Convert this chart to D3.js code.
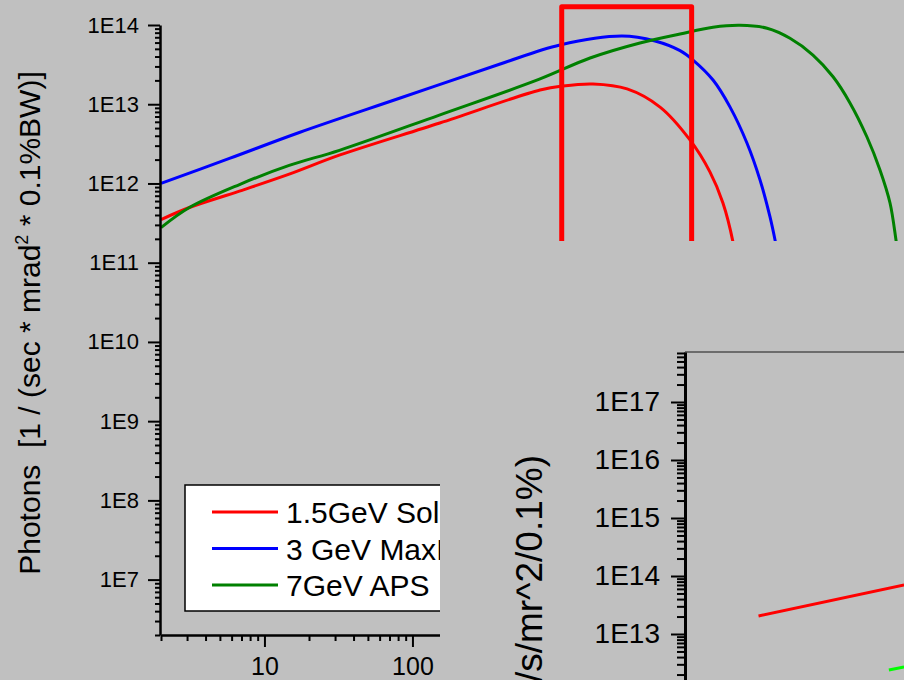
<!DOCTYPE html>
<html><head><meta charset="utf-8">
<script src="https://cdn.jsdelivr.net/npm/d3@7"></script>
<style>
body{margin:0;background:#c0c0c0;}
svg{display:block;font-family:"Liberation Sans",Arial,sans-serif;}
</style>
</head><body>
<svg id="c" width="904" height="680"></svg>
<script>
// ---------- data ----------
const seriesNames = ["1.5GeV Solaris", "3 GeV MaxIV", "7GeV APS"];
const seriesColors = ["#ff0000", "#0000ff", "#008000"];
// [photon energy (eV), photons]
const solaris = [[2,3.5e11],[3.11,4.97e11],[6.78,8.0e11],[14.7,1.31e12],[32.4,2.29e12],[153,5.8e12],[728,1.51e13],[1040,1.70e13],[1660,1.80e13],[2820,1.56e13],[4710,9.2e12],[7500,3.54e12],[10230,1.40e12],[12530,5.67e11],[14650,1.82e11],[15350,1.02e11]];
const maxiv = [[2,1e12],[5.8,2.07e12],[17.2,4.4e12],[81.7,1.19e13],[387,3.2e13],[993,5.6e13],[2606,7.26e13],[4360,6.28e13],[6430,4.74e13],[7870,3.61e13],[10740,2.02e13],[14000,9.2e12],[18200,3.24e12],[22300,1.11e12],[26060,3.78e11],[28180,1.93e11],[30000,1.02e11]];
const aps = [[2,2.77e11],[3.11,4.97e11],[6.78,9.7e11],[14.7,1.69e12],[32.1,2.62e12],[152,7.3e12],[721,2.07e13],[1585,3.83e13],[3445,5.93e13],[6430,7.7e13],[10740,9.35e13],[16330,9.9e13],[24890,9.1e13],[35560,6.8e13],[50840,4.18e13],[69500,2.22e13],[90400,1.04e13],[117800,3.86e12],[144200,1.48e12],[168600,5.67e11],[185000,1.93e11],[193800,1.02e11]];
const highlightEnergy = [1020, 7700];
const highlightPhotons = [1e11, 1.7e14];
const yTickLabels = ["1E7","1E8","1E9","1E10","1E11","1E12","1E13","1E14"];
const xTickLabels = ["10","100","1000","10000","100000"];
// inset
const insetRed = [[4.1,2.05e13],[67,7.0e13]];
const insetGreen = [[50,2.4e12],[67,2.7e12]];
const insetColors = ["#ff0000", "#00ff00"];
const insetTickLabels = ["1E12","1E13","1E14","1E15","1E16","1E17"];

// ---------- drawing ----------
const svg = d3.select("#c");
svg.append("rect").attr("width",904).attr("height",680).attr("fill","#c0c0c0");
const lg = v => Math.round(Math.log10(v));
const isMajor = v => Math.abs(Math.log10(v) - Math.round(Math.log10(v))) < 1e-6;

const x = d3.scaleLog().domain([2, 2e5]).range([161, 901]);
const y = d3.scaleLog().domain([2e6, 1e14]).range([635, 25]);

// curves
const line = d3.line().x(d => x(d[0])).y(d => y(d[1])).curve(d3.curveCatmullRom.alpha(0.5));
[solaris, maxiv, aps].forEach((s, i) => {
  svg.append("path").attr("d", line(s)).attr("fill","none")
    .attr("stroke", seriesColors[i]).attr("stroke-width", 3);
});

// highlight box
svg.append("rect")
  .attr("x", x(highlightEnergy[0])).attr("y", y(highlightPhotons[1]))
  .attr("width", x(highlightEnergy[1]) - x(highlightEnergy[0]))
  .attr("height", y(highlightPhotons[0]) - y(highlightPhotons[1]))
  .attr("fill","none").attr("stroke","#ff0000").attr("stroke-width",5)
  .attr("stroke-linejoin","round");

// y axis
const yg = svg.append("g").attr("transform","translate(160,0)")
  .call(d3.axisLeft(y).tickValues(y.ticks()).tickSize(12).tickSizeOuter(0).tickPadding(9)
    .tickFormat(v => isMajor(v) ? yTickLabels[lg(v) - 7] : ""));
yg.attr("font-size", 22).attr("font-family", "Liberation Sans, Arial, sans-serif");
yg.select(".domain").attr("stroke-width", 2.5).attr("stroke","#000");
yg.selectAll(".tick line").attr("stroke-width", 2);
yg.selectAll(".tick").filter(d => !isMajor(d)).select("line").attr("x2", -5);
yg.selectAll(".tick text").attr("fill","#000");

// x axis
const xg = svg.append("g").attr("transform","translate(0,635)")
  .call(d3.axisBottom(x).tickValues(x.ticks()).tickSize(12).tickSizeOuter(0).tickPadding(10)
    .tickFormat(v => isMajor(v) ? xTickLabels[lg(v) - 1] : ""));
xg.attr("font-size", 25).attr("font-family", "Liberation Sans, Arial, sans-serif");
xg.select(".domain").attr("stroke-width", 2.5).attr("stroke","#000");
xg.selectAll(".tick line").attr("stroke-width", 2);
xg.selectAll(".tick").filter(d => !isMajor(d)).select("line").attr("y2", 6);
xg.selectAll(".tick text").attr("fill","#000");

// y title
const yt = svg.append("text").attr("transform","translate(40,323) rotate(-90)")
  .attr("text-anchor","middle").attr("font-size",30).attr("fill","#000");
yt.append("tspan").text("Photons\u00A0 [1 / (sec * mrad");
yt.append("tspan").attr("font-size",18).attr("dy",-12).text("2");
yt.append("tspan").attr("dy",12).text(" * 0.1%BW)]");

// legend
const leg = svg.append("g");
leg.append("rect").attr("x",185).attr("y",485).attr("width",330).attr("height",126)
  .attr("fill","#fff").attr("stroke","#000").attr("stroke-width",1.5);
seriesNames.forEach((n, i) => {
  const ly = 512 + i * 36.5;
  leg.append("line").attr("x1",212).attr("x2",278).attr("y1",ly).attr("y2",ly)
    .attr("stroke",seriesColors[i]).attr("stroke-width",3);
  leg.append("text").attr("x",286).attr("y",ly + 11).attr("font-size",30).attr("fill","#000").text(n);
});

// ---------- inset panel ----------
svg.append("rect").attr("x",440).attr("y",241).attr("width",464).attr("height",439).attr("fill","#c0c0c0");
const ix = d3.scaleLog().domain([1, 1e5]).range([685, 1285]);
const iy = d3.scaleLog().domain([1e12, Math.pow(10, 17.862)]).range([692, 352]);

svg.append("line").attr("x1",685).attr("x2",904).attr("y1",iy.range()[1]).attr("y2",iy.range()[1])
  .attr("stroke","#505050").attr("stroke-width",1.5);

const iline = d3.line().x(d => ix(d[0])).y(d => iy(d[1]));
[insetRed, insetGreen].forEach((s, i) => {
  svg.append("path").attr("d", iline(s)).attr("fill","none")
    .attr("stroke", insetColors[i]).attr("stroke-width", 3);
});

const ig = svg.append("g").attr("transform","translate(685,0)")
  .call(d3.axisLeft(iy).tickValues(iy.ticks()).tickSize(14).tickSizeOuter(0).tickPadding(11)
    .tickFormat(v => isMajor(v) ? insetTickLabels[lg(v) - 12] : ""));
ig.attr("font-size", 28).attr("font-family", "Liberation Sans, Arial, sans-serif");
ig.select(".domain").attr("stroke-width", 3).attr("stroke","#000");
ig.selectAll(".tick line").attr("stroke-width", 2);
ig.selectAll(".tick").filter(d => !isMajor(d)).select("line").attr("x2", -8);
ig.selectAll(".tick text").attr("fill","#000");

svg.append("text").attr("transform","translate(542,455) rotate(-90)")
  .attr("text-anchor","end").attr("font-size",37).attr("fill","#000")
  .text("Brilliance (ph/s/mr^2/0.1%)");
</script>
</body></html>
